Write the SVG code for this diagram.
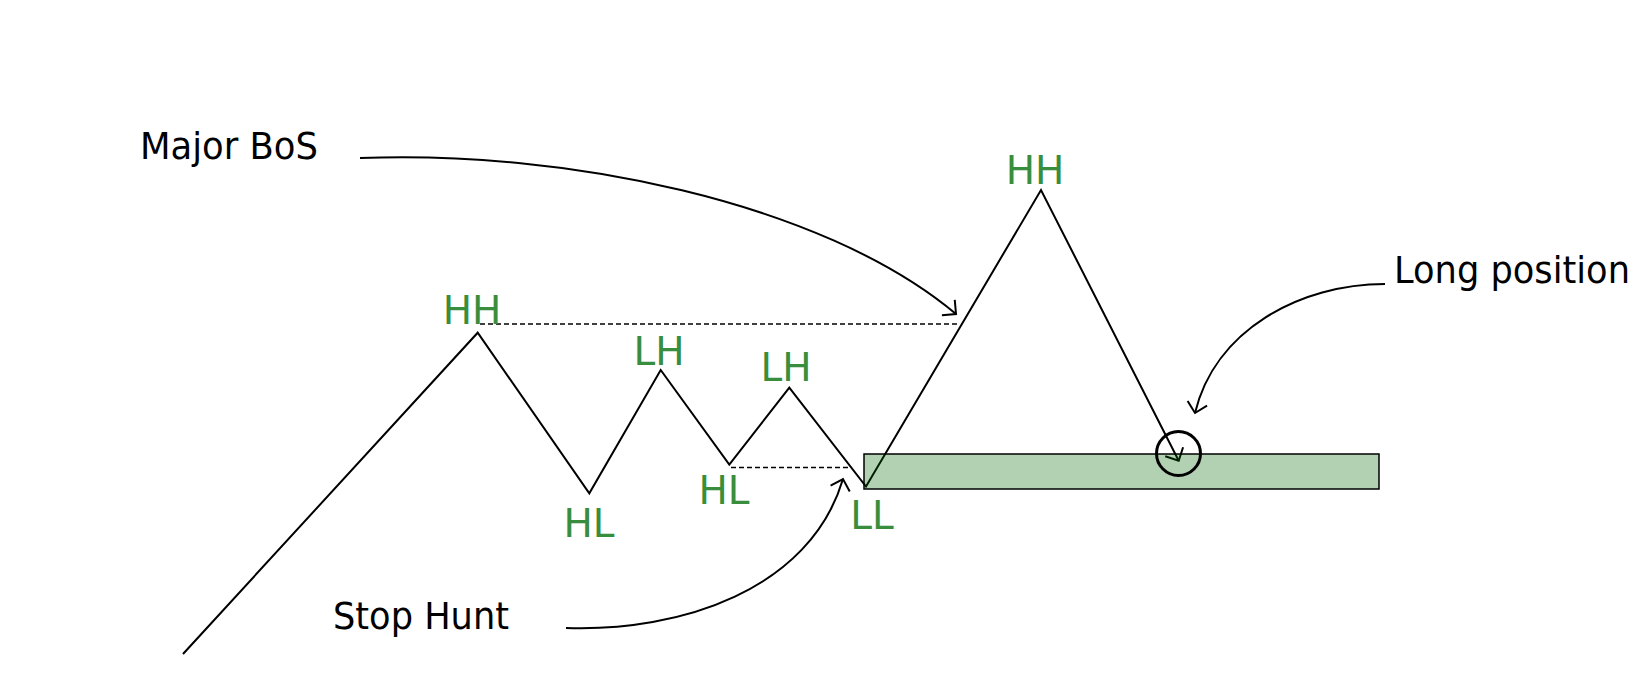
<svg xmlns="http://www.w3.org/2000/svg" width="1644" height="684" viewBox="0 0 1644 684">
<style>
.lbl{font-family:"DejaVu Sans","Liberation Sans",sans-serif;font-size:38px;fill:#000}
.pt{font-family:"DejaVu Sans","Liberation Sans",sans-serif;font-size:39px;fill:#388E3C;text-anchor:middle}
.ln{fill:none;stroke:#000;stroke-width:2;stroke-linejoin:miter}
.cv{fill:none;stroke:#000;stroke-width:2}
.dash{fill:none;stroke:#000;stroke-width:1.5;stroke-dasharray:5 3}
</style>
<defs>
<marker id="open" markerUnits="userSpaceOnUse" markerWidth="30" markerHeight="30" viewBox="-15 -15 30 30" refX="0" refY="0" orient="auto">
<path d="M-10,-10 L0,0 L-10,10" fill="none" stroke="#000" stroke-width="2"/>
</marker>
</defs>
<rect width="1644" height="684" fill="#fff"/>
<g id="connectors">
<line class="dash" x1="480" y1="324" x2="960" y2="324"/>
<line class="dash" x1="731" y1="467.5" x2="849" y2="467.5"/>
<polyline id="price" class="ln" points="183,654 477.7,332.7 589.3,493.3 660.7,370 729.3,464.5 789.3,387.7 866,486.5 1041,190 1178.7,460.7" marker-end="url(#open)"/>
<path id="arrow-bos" class="cv" d="M360,158 C560,150 820,200 956,314" marker-end="url(#open)"/>
<path id="arrow-stop" class="cv" d="M566,628 C680,632 810,590 843,479" marker-end="url(#open)"/>
<path id="arrow-long" class="cv" d="M1385,284 C1300,284 1215,330 1195,413" marker-end="url(#open)"/>
</g>
<g id="zone">
<rect x="864" y="454" width="515" height="35" fill="#006400" fill-opacity="0.3" stroke="#000" stroke-width="1.5"/>
</g>
<g id="entry">
<circle cx="1178.5" cy="453.5" r="22" fill="none" stroke="#000" stroke-width="3"/>
</g>
<g id="label-major-bos"><text class="lbl" x="140" y="159" textLength="178" lengthAdjust="spacingAndGlyphs">Major BoS</text></g>
<g id="label-stop-hunt"><text class="lbl" x="333" y="629" textLength="176" lengthAdjust="spacingAndGlyphs">Stop Hunt</text></g>
<g id="label-long"><text class="lbl" x="1394" y="283" textLength="236" lengthAdjust="spacingAndGlyphs">Long position</text></g>
<g id="hh1"><text class="pt" x="472" y="324">HH</text></g>
<g id="hl1"><text class="pt" x="589" y="537">HL</text></g>
<g id="lh1"><text class="pt" x="659" y="365">LH</text></g>
<g id="hl2"><text class="pt" x="724" y="504">HL</text></g>
<g id="lh2"><text class="pt" x="786" y="381">LH</text></g>
<g id="ll"><text class="pt" x="872" y="529">LL</text></g>
<g id="hh2"><text class="pt" x="1035" y="184">HH</text></g>
</svg>
